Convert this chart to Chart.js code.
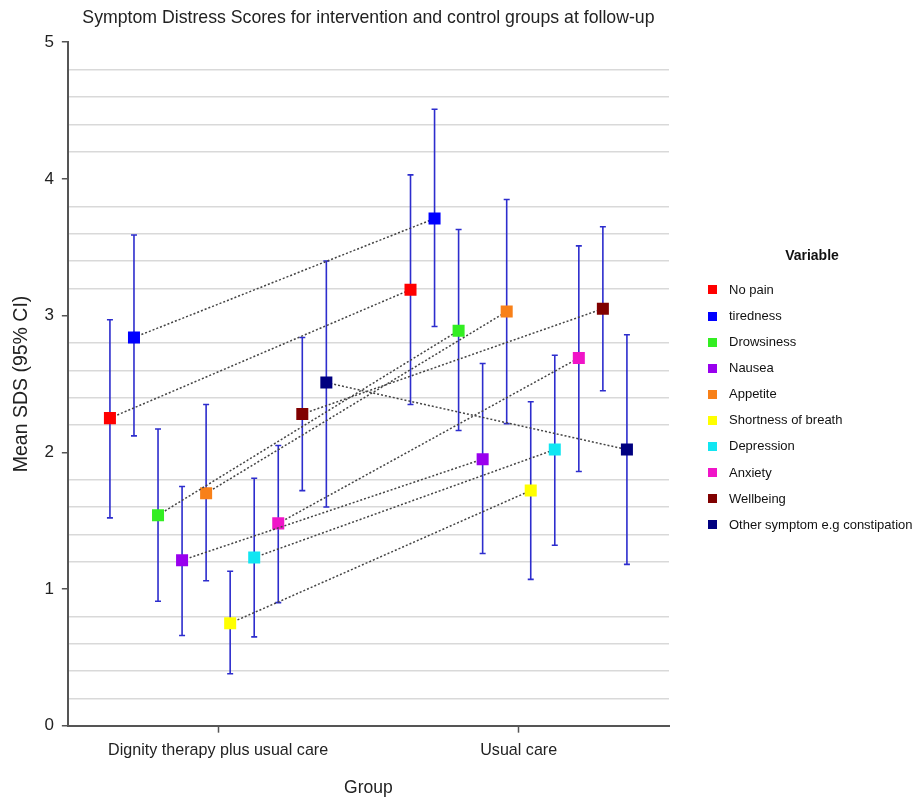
<!DOCTYPE html>
<html>
<head>
<meta charset="utf-8">
<title>Symptom Distress Scores</title>
<script src="https://cdn.jsdelivr.net/npm/chart.js@4.4.1/dist/chart.umd.min.js"></script>
<style>
  body { margin: 0; background: #fff; font-family: 'Liberation Sans', Arial, sans-serif; }
  #wrap { position: relative; width: 917px; height: 800px; }
  #legend { position: absolute; left: 700px; top: 243px; width: 217px; color: #111; }
  #legend .ttl { font-size: 14px; font-weight: bold; text-align: center; width: 224px; height: 24px; line-height: 24px; margin-bottom: 9.9px; }
  #legend .row { position: relative; height: 26.1px; font-size: 13px; line-height: 26.1px; }
  #legend .sw { position: absolute; left: 8px; top: 8.6px; width: 9px; height: 9px; }
  #legend .tx { position: absolute; left: 29px; top: 0; white-space: nowrap; }
</style>
</head>
<body>
<div id="wrap">
  <canvas id="sdsChart"></canvas>
  <div id="legend"></div>
</div>
<script>
// groups on the x axis
var groups = ["Dignity therapy plus usual care", "Usual care"];

// symptom variables, in legend order
var variables = [
  "No pain", "tiredness", "Drowsiness", "Nausea", "Appetite",
  "Shortness of breath", "Depression", "Anxiety", "Wellbeing",
  "Other symptom e.g constipation"
];
var variableColors = [
  "#ff0000", "#0000ff", "#33ee22", "#9900ee", "#f88018",
  "#ffff00", "#11e6f2", "#f014c8", "#800000", "#000080"
];

// mean SDS and 95% CI
var dignityMean  = [2.25, 2.84, 1.54, 1.21, 1.70, 0.75, 1.23, 1.48, 2.28, 2.51];
var dignityLower = [1.52, 2.12, 0.91, 0.66, 1.06, 0.38, 0.65, 0.90, 1.72, 1.60];
var dignityUpper = [2.97, 3.59, 2.17, 1.75, 2.35, 1.13, 1.81, 2.05, 2.84, 3.40];
var usualMean    = [3.19, 3.71, 2.89, 1.95, 3.03, 1.72, 2.02, 2.69, 3.05, 2.02];
var usualLower   = [2.35, 2.92, 2.16, 1.26, 2.21, 1.07, 1.32, 1.86, 2.45, 1.18];
var usualUpper   = [4.03, 4.51, 3.63, 2.65, 3.85, 2.37, 2.71, 3.51, 3.65, 2.86];

var FONT = "'Liberation Sans', Arial, sans-serif";
var dodge = 0.08; // spacing between variables inside a group

function isWhole(v) {
  return Math.abs(v - Math.round(v)) < 1e-6;
}

var datasets = variables.map(function (name, i) {
  var off = (i - (variables.length - 1) / 2) * dodge;
  return {
    label: name,
    data: [
      { x: 0 + off, y: dignityMean[i] },
      { x: 1 + off, y: usualMean[i] }
    ],
    lower: [dignityLower[i], usualLower[i]],
    upper: [dignityUpper[i], usualUpper[i]],
    showLine: true,
    borderColor: "#444",
    borderWidth: 1.5,
    borderDash: [2, 2],
    pointStyle: "rect",
    pointRadius: 8.5,
    pointHoverRadius: 8.5,
    pointBackgroundColor: variableColors[i],
    pointBorderColor: variableColors[i],
    pointBorderWidth: 0
  };
});

// vertical CI bars with small caps, drawn under the markers
var errorBars = {
  id: "errorBars",
  beforeDatasetsDraw: function (chart) {
    var ctx = chart.ctx;
    var xs = chart.scales.x;
    var ys = chart.scales.y;
    ctx.save();
    ctx.strokeStyle = "rgb(45,45,205)";
    ctx.lineWidth = 1.6;
    chart.data.datasets.forEach(function (ds) {
      ds.data.forEach(function (pt, j) {
        var x = xs.getPixelForValue(pt.x);
        var yt = ys.getPixelForValue(ds.upper[j]);
        var yb = ys.getPixelForValue(ds.lower[j]);
        ctx.beginPath();
        ctx.moveTo(x, yt);
        ctx.lineTo(x, yb);
        ctx.moveTo(x - 3, yt);
        ctx.lineTo(x + 3, yt);
        ctx.moveTo(x - 3, yb);
        ctx.lineTo(x + 3, yb);
        ctx.stroke();
      });
    });
    ctx.restore();
  }
};

var ctx = document.getElementById("sdsChart");
var chart = new Chart(ctx, {
  type: "scatter",
  data: { datasets: datasets },
  plugins: [errorBars],
  options: {
    responsive: true,
    maintainAspectRatio: false,
    animation: false,
    layout: { padding: { left: 7, right: 248, top: 4, bottom: 1 } },
    plugins: {
      tooltip: { enabled: false },
      legend: { display: false },
      title: {
        display: true,
        fullSize: false,
        text: "Symptom Distress Scores for intervention and control groups at follow-up",
        color: "#222",
        font: { family: FONT, size: 17.7, weight: "normal" },
        padding: { top: 3, bottom: 14 }
      }
    },
    scales: {
      x: {
        type: "linear",
        min: -0.5,
        max: 1.5,
        afterBuildTicks: function (scale) {
          scale.ticks = groups.map(function (g, k) { return { value: k }; });
        },
        ticks: {
          color: "#222",
          font: { family: FONT, size: 16.1 },
          padding: 8,
          callback: function (value, index) { return groups[index]; }
        },
        grid: {
          drawOnChartArea: false,
          drawTicks: true,
          tickLength: 7,
          tickColor: "#555",
          tickWidth: 1.5
        },
        border: { color: "#555", width: 2 },
        title: {
          display: true,
          text: "Group",
          color: "#222",
          font: { family: FONT, size: 17.5 },
          padding: { top: 10, bottom: 0 }
        }
      },
      y: {
        min: 0,
        max: 5,
        ticks: {
          stepSize: 0.2,
          autoSkip: false,
          color: "#222",
          font: { family: FONT, size: 17 },
          padding: 8,
          callback: function (value) { return isWhole(value) ? String(Math.round(value)) : ""; }
        },
        grid: {
          color: function (c) { return isWhole(c.tick.value) ? "rgba(0,0,0,0)" : "#d9d9d9"; },
          lineWidth: 1.5,
          drawTicks: true,
          tickLength: 6,
          tickColor: function (c) { return isWhole(c.tick.value) ? "#555" : "rgba(0,0,0,0)"; }
        },
        border: { color: "#555", width: 2 },
        title: {
          display: true,
          text: "Mean SDS (95% CI)",
          color: "#222",
          font: { family: FONT, size: 19.5 },
          padding: { top: 3, bottom: 3 }
        }
      }
    }
  }
});

// legend built from the same variable and colour lists
var legendEl = document.getElementById("legend");
var ttl = document.createElement("div");
ttl.className = "ttl";
ttl.textContent = "Variable";
legendEl.appendChild(ttl);
variables.forEach(function (name, i) {
  var row = document.createElement("div");
  row.className = "row";
  var sw = document.createElement("span");
  sw.className = "sw";
  sw.style.background = variableColors[i];
  var tx = document.createElement("span");
  tx.className = "tx";
  tx.textContent = name;
  row.appendChild(sw);
  row.appendChild(tx);
  legendEl.appendChild(row);
});
</script>
</body>
</html>
